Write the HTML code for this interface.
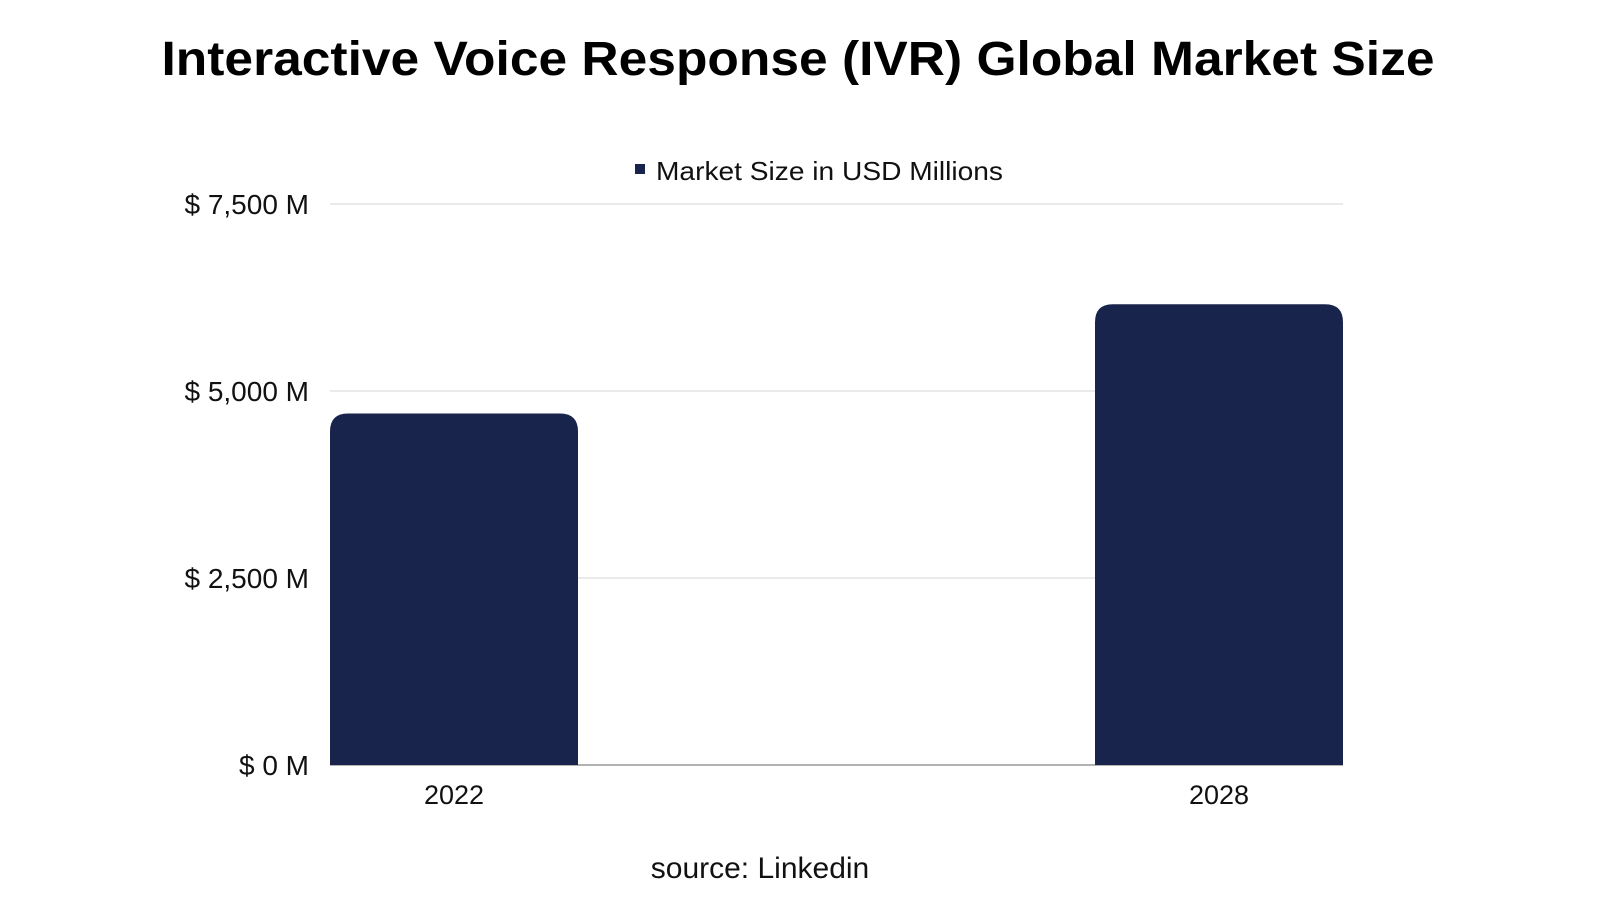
<!DOCTYPE html>
<html><head><meta charset="utf-8"><style>
html,body{margin:0;padding:0;background:#fff;}
svg{display:block;font-family:"Liberation Sans",sans-serif;}
</style></head><body>
<svg id="chart" width="1600" height="900" viewBox="0 0 1600 900">
<text x="798" y="75" text-anchor="middle" font-size="48" font-weight="bold" fill="#000" textLength="1273" lengthAdjust="spacingAndGlyphs">Interactive Voice Response (IVR)  Global Market Size</text>
<g>
<rect x="635" y="164" width="10" height="10" fill="#18244c"/>
<text x="656" y="180" font-size="26" fill="#111" textLength="347" lengthAdjust="spacingAndGlyphs">Market Size in USD Millions</text>
</g>
<g id="grid"></g><g id="bars"></g><g id="labels"></g>
<text x="760" y="878" text-anchor="middle" font-size="30" fill="#111">source: Linkedin</text>
</svg>
<script>
const categories = ["2022", "2028"];
const values = [4700, 6160];
const ticks = [0, 2500, 5000, 7500];
const tickLabels = ["$ 0 M", "$ 2,500 M", "$ 5,000 M", "$ 7,500 M"];
const NS = "http://www.w3.org/2000/svg";
const plotLeft = 330, plotRight = 1343, plotBase = 765, plotTop = 204, vmax = 7500;
const yScale = v => plotBase - (v / vmax) * (plotBase - plotTop);
const bw = 248;
const xPos = i => plotLeft + i * ((plotRight - bw - plotLeft) / (categories.length - 1));
function mk(tag, attrs) { const e = document.createElementNS(NS, tag); for (const k in attrs) e.setAttribute(k, attrs[k]); return e; }
const grid = document.getElementById('grid'), bars = document.getElementById('bars'), labels = document.getElementById('labels');
ticks.forEach((t, i) => {
  const l = mk('line', {x1: plotLeft, x2: plotRight, y1: yScale(t), y2: yScale(t), stroke: t === 0 ? '#999' : '#d4d4d4', 'stroke-width': t === 0 ? 1.5 : 1});
  
  
  grid.appendChild(l);
  const tx = mk('text', {x: 309, y: yScale(t) + 10, 'text-anchor': 'end', 'font-size': 28, fill: '#111'});
  tx.textContent = tickLabels[i];
  
  
  labels.appendChild(tx);
});
categories.forEach((c, i) => {
  const x0 = xPos(i), yt = yScale(values[i]), r = 18;
  const p = mk('path', {d: `M${x0},${plotBase} V${yt + r} Q${x0},${yt} ${x0 + r},${yt} H${x0 + bw - r} Q${x0 + bw},${yt} ${x0 + bw},${yt + r} V${plotBase} Z`, fill: '#18244c'});
  
  
  bars.appendChild(p);
  const tx = mk('text', {x: x0 + bw / 2, y: 804, 'text-anchor': 'middle', 'font-size': 27, fill: '#111'});
  tx.textContent = c;
  
  
  labels.appendChild(tx);
});
</script>
</body></html>
